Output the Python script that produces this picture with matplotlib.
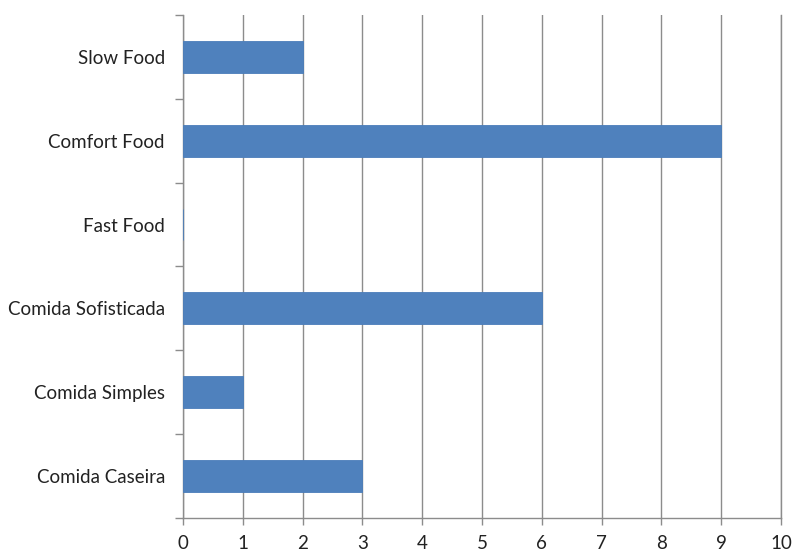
import matplotlib
matplotlib.use("Agg")
import matplotlib.pyplot as plt
import numpy as np

categories = ["Comida Caseira", "Comida Simples", "Comida Sofisticada", "Fast Food", "Comfort Food", "Slow Food"]
values = [3, 1, 6, 0, 9, 2]
xticks = list(range(0, 11))

plt.rcParams['font.family'] = ['Lato', 'DejaVu Sans']

fig = plt.figure(figsize=(7.92, 5.52), dpi=100)
ax = fig.add_axes([0.231, 0.0616, 0.755, 0.9114])

y = np.arange(len(categories))
ax.barh(y, values, height=0.38, color="#4F81BD", edgecolor="#4A7DBA", linewidth=0.6, zorder=3)

ax.set_xlim(0, 10)
ax.set_ylim(-0.5, len(categories) - 0.5)
ax.set_xticks(xticks)
ax.set_xticklabels([str(t) for t in xticks], fontsize=13.5, color="#222222")
ax.set_yticks(y)
ax.set_yticklabels(categories, fontsize=13.5, color="#222222")
ax.set_yticks(np.arange(-0.5, len(categories), 1), minor=True)
ax.tick_params(axis='y', which='major', length=0, pad=13)
ax.tick_params(axis='y', which='minor', length=6, color="#8C8C8C", width=1)
ax.tick_params(axis='x', which='major', length=5, color="#8C8C8C", width=1, pad=7)

ax.grid(axis='x', color="#8C8C8C", linewidth=1, zorder=0)
ax.axvline(10, color="#8C8C8C", linewidth=1, zorder=0, clip_on=False)
for s in ['top', 'right']:
    ax.spines[s].set_visible(False)
for s in ['left', 'bottom']:
    ax.spines[s].set_color("#8C8C8C")
    ax.spines[s].set_linewidth(1)

fig.savefig("out.png", dpi=100)
